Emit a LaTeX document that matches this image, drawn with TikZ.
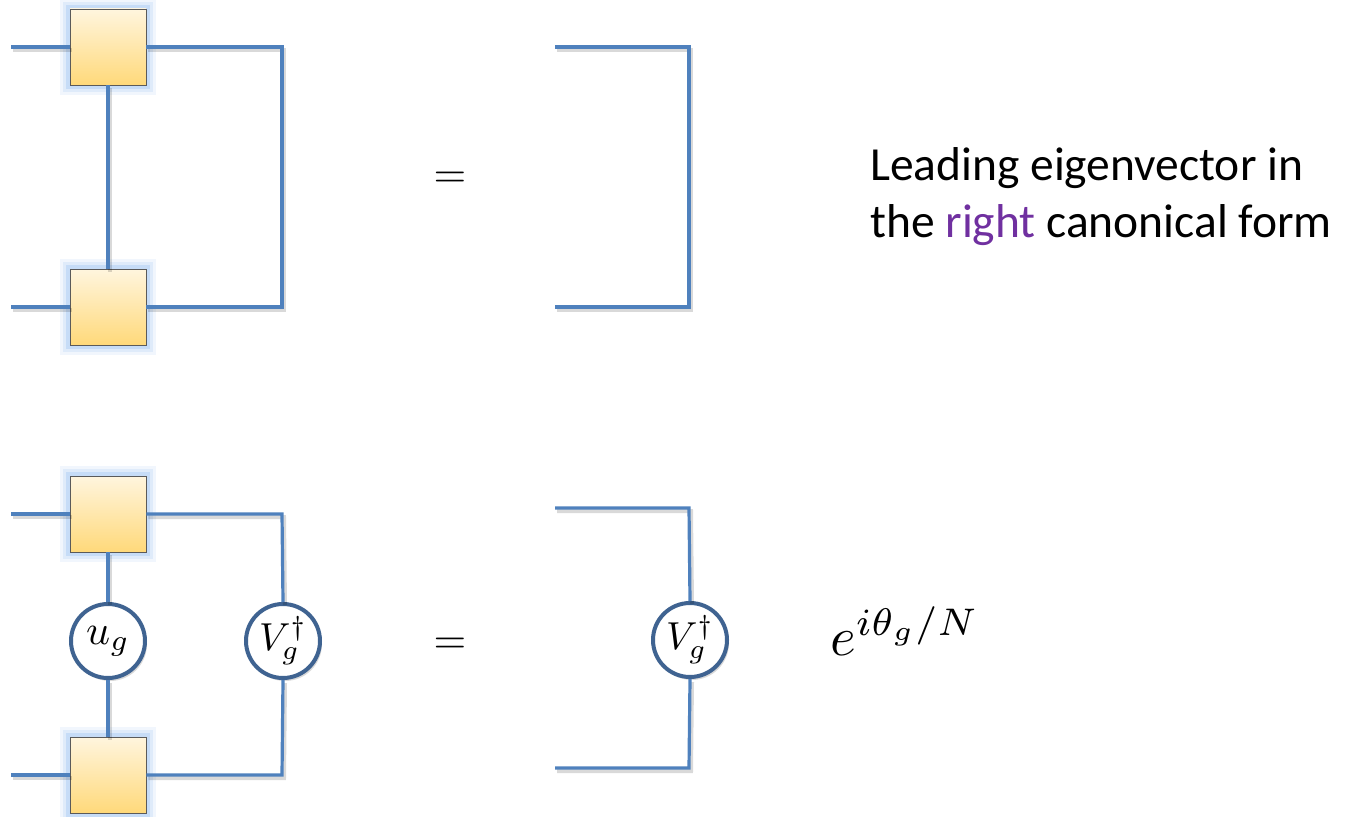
\documentclass[tikz,border=0pt]{standalone}
\usepackage{graphicx}
\usepackage{fontspec}
\setmainfont{Carlito}
\usetikzlibrary{calc}
\definecolor{wire}{HTML}{4F81BD}
\definecolor{ring}{HTML}{3F6391}
\definecolor{glowc}{HTML}{8DB8EE}
\definecolor{boxedge}{HTML}{5A5A5A}
\definecolor{boxtop}{HTML}{FFF5DE}
\definecolor{boxbot}{HTML}{FFD97A}
\definecolor{purp}{HTML}{7030A0}
\tikzset{
  tensor/.style={draw=boxedge, line width=0.8pt, minimum size=76pt, inner sep=0pt,
    top color=boxtop, bottom color=boxbot,
    preaction={draw=glowc, line width=20pt, opacity=0.12, rounded corners=9pt},
    preaction={draw=glowc, line width=14pt, opacity=0.18, rounded corners=6pt},
    preaction={draw=glowc, line width=8pt, opacity=0.3, rounded corners=3pt}},
  gate/.style={circle, draw=ring, line width=4pt, fill=white, minimum size=74pt, inner sep=0pt,
    preaction={fill=black, opacity=0.15, transform canvas={shift={(2pt,-3pt)}}}},
  wires/.style={draw=wire, line width=3.2pt,
    preaction={draw=black, opacity=0.15, line width=4pt, transform canvas={shift={(2pt,-3pt)}}}},
  eqsign/.style={inner sep=0pt},
  label/.style={font=\fontsize{47.5}{56}\selectfont, anchor=base west, inner sep=0pt},
}
\begin{document}
\begin{tikzpicture}[x=1pt,y=-1pt]
\useasboundingbox (0,0) rectangle (1356,816);

% ---------- top row ----------
\coordinate (tL1) at (11,47);
\coordinate (tL2) at (11,307);
\coordinate (tR1) at (282,47);
\coordinate (tR2) at (282,307);
\coordinate (rA1) at (555,47);
\coordinate (rA2) at (689,47);
\coordinate (rA3) at (689,307);
\coordinate (rA4) at (555,307);

\draw[wires] (rA1) -- (rA2) -- (rA3) -- (rA4);

\node[tensor] (A) at (108,47) {};
\node[tensor] (B) at (108,307) {};
\draw[wires] (tL1) -- (A.west);
\draw[wires] (A.east) -- (tR1) -- (tR2) -- (B.east);
\draw[wires] (A.south) -- (B.north);
\draw[wires] (tL2) -- (B.west);

\node[eqsign] (eq1) at (450,180) {\scalebox{4.2}{$=$}};

\node[label] (t1) at (870,180) {Leading eigenvector in};
\node[label] (t2) at (870,237) {the \textcolor{purp}{right} canonical form};

% ---------- bottom row ----------
\coordinate (bL1) at (11,514);
\coordinate (bL2) at (11,775);
\coordinate (bR1) at (282,514);
\coordinate (bR2) at (282,775);
\coordinate (rB1) at (555,508);
\coordinate (rB2) at (689,508);
\coordinate (rB3) at (689,768);
\coordinate (rB4) at (555,768);

\node[tensor] (C) at (108,514) {};
\node[tensor] (D) at (108,775) {};
\node[gate] (U) at (108,641) {\scalebox{4.2}{$u_g$}};
\node[gate] (V) at (283,641) {\scalebox{3.9}{$V_g^\dagger$}};
\node[gate] (W) at (690,640) {\scalebox{3.9}{$V_g^\dagger$}};

\draw[wires] (bL1) -- (C.west);
\draw[wires] (C.east) -- (bR1) -- (V.north);
\draw[wires] (V.south) -- (bR2) -- (D.east);
\draw[wires] (bL2) -- (D.west);
\draw[wires] (C.south) -- (U.north);
\draw[wires] (U.south) -- (D.north);

\draw[wires] (rB1) -- (rB2) -- (W.north);
\draw[wires] (W.south) -- (rB3) -- (rB4);

\node[eqsign] (eq2) at (450,646) {\scalebox{4.2}{$=$}};

\node[anchor=base west, inner sep=0pt] (ph) at (830,655) {\scalebox{5.5}{$e^{i\theta_g/N}$}};
\end{tikzpicture}
\end{document}
